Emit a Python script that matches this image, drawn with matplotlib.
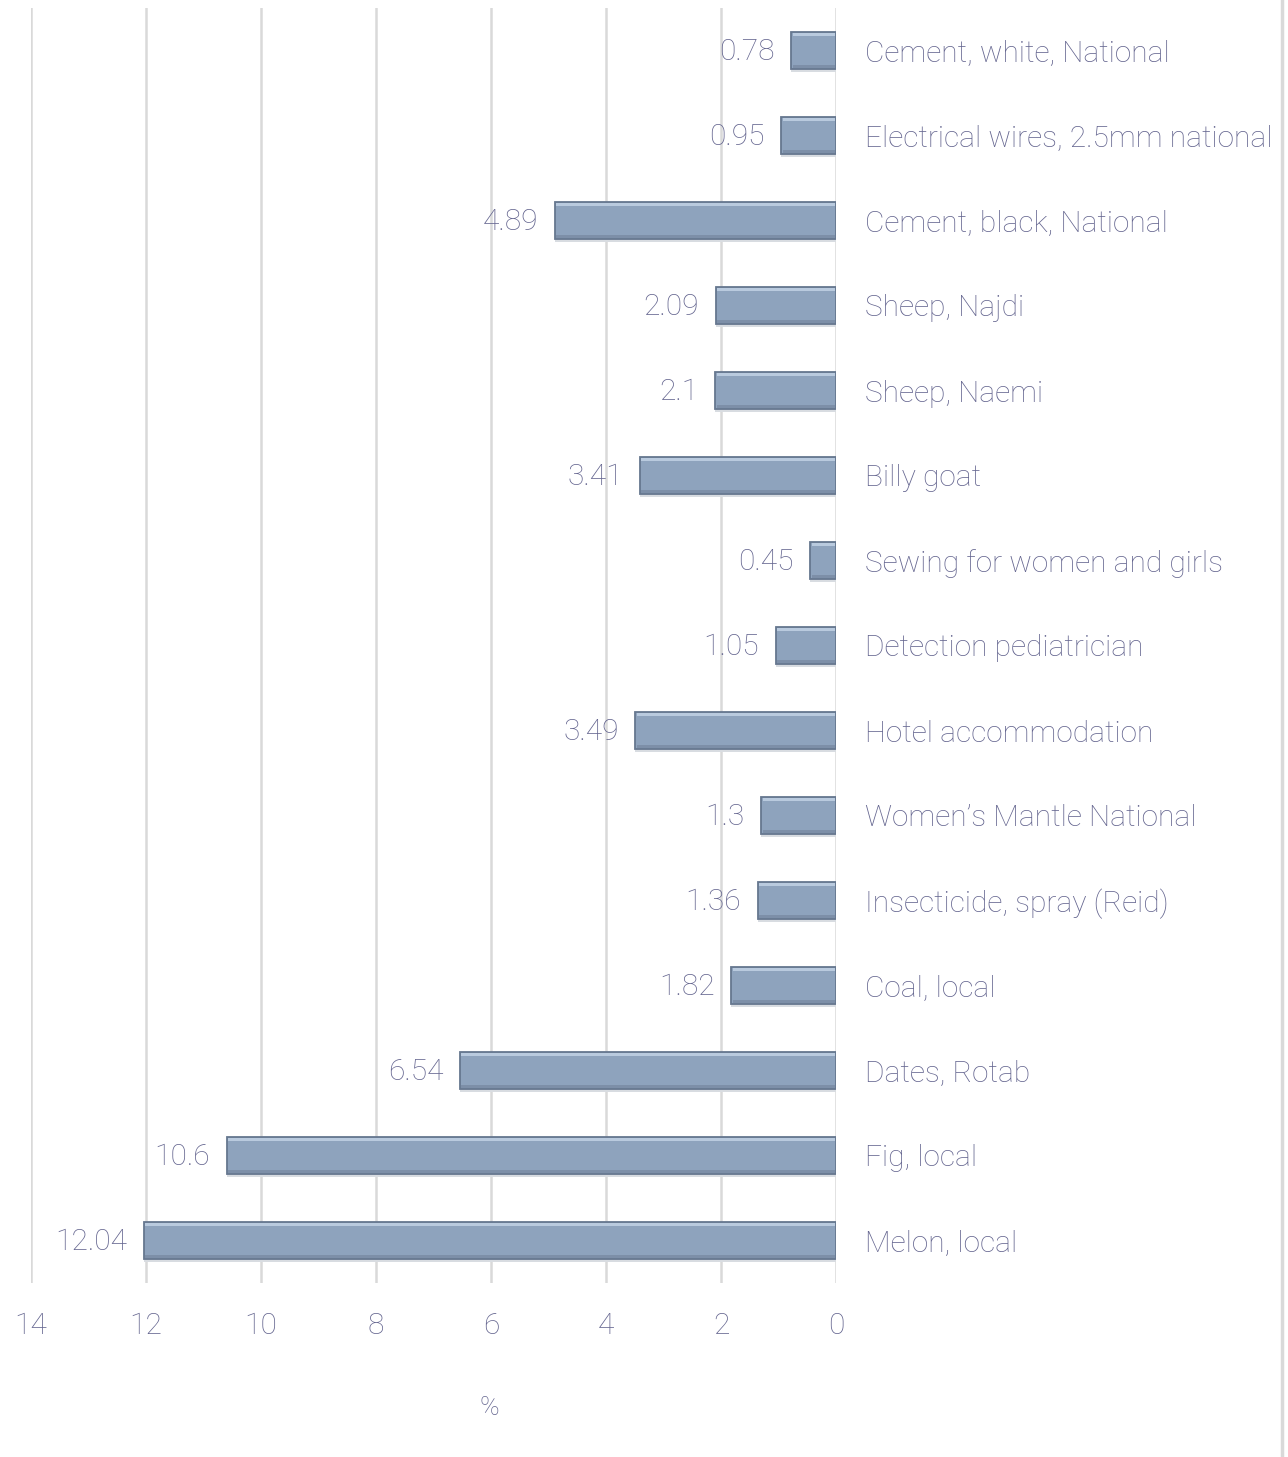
import matplotlib.pyplot as plt
from matplotlib.lines import Line2D

# Data, top to bottom as in the chart
items = ["Cement, white, National", "Electrical wires, 2.5mm national",
         "Cement, black, National", "Sheep, Najdi", "Sheep, Naemi",
         "Billy goat", "Sewing for women and girls", "Detection pediatrician",
         "Hotel accommodation", "Women\u2019s Mantle National",
         "Insecticide, spray (Reid)", "Coal, local", "Dates, Rotab",
         "Fig, local", "Melon, local"]
values = [0.78, 0.95, 4.89, 2.09, 2.1, 3.41, 0.45, 1.05, 3.49, 1.3,
          1.36, 1.82, 6.54, 10.6, 12.04]
xticks = [14, 12, 10, 8, 6, 4, 2, 0]

txt_color = "#64658f"
bar_color = "#8ea3bd"
fw = "light"
fs = 21.5

plt.rcParams['font.family'] = ['Roboto', 'DejaVu Sans']

W, H = 1288, 1457
fig = plt.figure(figsize=(W / 100, H / 100), dpi=100)
ax = fig.add_axes([31 / W, (H - 1283) / H, (836 - 31) / W, (1283 - 8) / H])

pos = list(range(len(items)))
bh = 0.44

# shadow, main bar, highlight and darker lower band for a bevel look
ax.barh([p + 0.035 for p in pos], values, height=bh, color="#d8dce1",
        zorder=2)
ax.barh(pos, values, height=bh, color=bar_color, edgecolor="#66778f",
        linewidth=1.3, zorder=3)
ax.barh([p - bh / 2 + 0.035 for p in pos], [v - 0.05 for v in values],
        height=0.035, left=0.025, color="#b9cade", zorder=4)
ax.barh([p + bh / 2 - 0.035 for p in pos], [v - 0.05 for v in values],
        height=0.035, left=0.025, color="#7d8fa8", zorder=4)

for p, v in zip(pos, values):
    ax.annotate(f"{v:g}", (v, p), xytext=(-12, -1), textcoords="offset points",
                ha="right", va="center", fontsize=fs, color=txt_color,
                fontweight=fw)

ax.set_xlim(14, 0)
ax.set_ylim(len(items) - 0.5, -0.5)
ax.set_xticks(xticks)
ax.set_xticklabels([str(t) for t in xticks], fontsize=fs, color=txt_color,
                   fontweight=fw)
ax.set_yticks(pos)
ax.set_yticklabels(items, fontsize=fs, color=txt_color, fontweight=fw)
ax.yaxis.tick_right()
ax.tick_params(axis="y", length=0, pad=21)
ax.tick_params(axis="x", length=0, pad=21)

ax.grid(axis="x", color="#d9d9d9", linewidth=1.8, zorder=0)
ax.set_axisbelow(True)
for s in ax.spines.values():
    s.set_visible(False)

fig.text(489 / W, 1 - 1408 / H, "%", ha="center", va="center",
         fontsize=19, color=txt_color, fontweight=fw)

# frame line on the right edge
fig.add_artist(Line2D([1282 / W, 1282 / W], [0, 1], color="#d9d9d9",
                      linewidth=2.5, transform=fig.transFigure))

fig.savefig("out.png", dpi=100, facecolor="white")
